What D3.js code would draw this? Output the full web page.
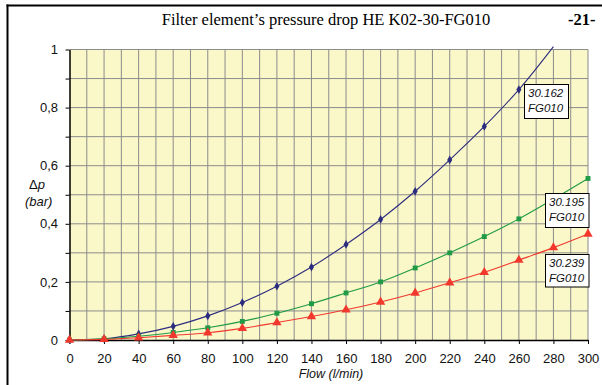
<!DOCTYPE html>
<html><head><meta charset="utf-8">
<script src="https://cdn.jsdelivr.net/npm/d3@7"></script>
<style>html,body{margin:0;padding:0;background:#fff;}svg{display:block;}</style>
</head><body>
<script>
const flow = [0,20,40,60,80,100,120,140,160,180,200,220,240,260,280,300];
const s162 = [0,0.004,0.021,0.047,0.083,0.129,0.185,0.251,0.329,0.415,0.512,0.62,0.735,0.862,1.01];
const s195 = [0,0.004,0.013,0.026,0.042,0.064,0.092,0.125,0.162,0.2,0.248,0.3,0.356,0.417,0.485,0.556];
const s239 = [0,0.002,0.008,0.016,0.025,0.04,0.06,0.081,0.104,0.131,0.162,0.197,0.233,0.275,0.318,0.365];
const seriesNames = [["30.162","FG010"],["30.195","FG010"],["30.239","FG010"]];
const xTicks = [0,20,40,60,80,100,120,140,160,180,200,220,240,260,280,300];
const yTicks = [0,0.2,0.4,0.6,0.8,1];
const title = "Filter element\u2019s pressure drop HE K02-30-FG010";
const pageNo = "-21-";

const W=602,H=385;
const svg=d3.select("body").append("svg").attr("width",W).attr("height",H);
svg.append("rect").attr("width",W).attr("height",H).attr("fill","#fff");

const x=d3.scaleLinear().domain([0,300]).range([69.5,588]);
const y=d3.scaleLinear().domain([0,1]).range([340,49.5]);

// frame
svg.append("line").attr("x1",6.5).attr("x2",W).attr("y1",5.5).attr("y2",5.5).attr("stroke","#000").attr("stroke-width",2);
svg.append("line").attr("x1",7.5).attr("x2",7.5).attr("y1",4.5).attr("y2",H).attr("stroke","#000").attr("stroke-width",2);

svg.append("text").attr("x",326).attr("y",25).attr("text-anchor","middle")
  .attr("font-family","'Liberation Serif','Times New Roman',serif").attr("font-size",16.5).text(title);
svg.append("text").attr("x",568).attr("y",25)
  .attr("font-family","'Liberation Serif','Times New Roman',serif").attr("font-weight","bold").attr("font-size",16.5).text(pageNo);

// plot background
svg.append("rect").attr("x",x(0)).attr("y",y(1)).attr("width",x(300)-x(0)).attr("height",y(0)-y(1)).attr("fill","#faf7c9");

// grid
const g=svg.append("g");
g.selectAll(".vg").data(d3.range(10,301,10)).join("line")
  .attr("x1",d=>x(d)).attr("x2",d=>x(d)).attr("y1",y(1)).attr("y2",y(0))
  .attr("stroke","#8c8c8c").attr("stroke-width",1);
g.selectAll(".hg").data(d3.range(1,11).map(d=>d/10)).join("line")
  .attr("x1",x(0)).attr("x2",x(300)).attr("y1",d=>y(d)).attr("y2",d=>y(d))
  .attr("stroke","#8c8c8c").attr("stroke-width",1);

// axes
const font="'Liberation Sans',Arial,sans-serif";
const yAxis=d3.axisLeft(y).tickValues(d3.range(0,11).map(d=>d/10)).tickSize(4).tickSizeOuter(0)
  .tickFormat(d=>yTicks.some(t=>Math.abs(t-d)<1e-9)? d3.format("~g")(d).replace(".",","):"");
const ya=svg.append("g").attr("transform",`translate(${x(0)},0)`).call(yAxis);
ya.select(".domain").attr("stroke","#000").attr("stroke-width",1.5);
ya.selectAll(".tick line").attr("stroke","#000");
ya.selectAll("text").attr("font-family",font).attr("font-size",13).attr("fill","#111").attr("x",-11.5);

const xAxis=d3.axisBottom(x).tickValues(xTicks).tickSize(4).tickSizeOuter(0).tickFormat(d3.format("d"));
const xa=svg.append("g").attr("transform",`translate(0,${y(0)})`).call(xAxis);
xa.select(".domain").attr("stroke","#000").attr("stroke-width",1.5);
xa.selectAll(".tick line").attr("stroke","#000");
xa.selectAll("text").attr("font-family",font).attr("font-size",13).attr("fill","#111").attr("dy",null).attr("y",23);

svg.append("text").attr("x",331).attr("y",377.5).attr("text-anchor","middle").attr("font-family",font)
  .attr("font-style","italic").attr("font-size",12.5).attr("fill","#111").text("Flow (l/min)");
const dp=svg.append("text").attr("x",29).attr("y",189).attr("font-family",font).attr("font-size",13).attr("fill","#111");
dp.append("tspan").text("\u0394");
dp.append("tspan").attr("font-style","italic").text("p");
svg.append("text").attr("x",25).attr("y",206).attr("font-family",font).attr("font-style","italic")
  .attr("font-size",13).attr("fill","#111").text("(bar)");

// series
const series=[
  {vals:s162,color:"#2c2c7e",sym:d3.symbolDiamond,size:22,mfill:"#2c2c7e"},
  {vals:s195,color:"#1f9a45",sym:d3.symbolSquare,size:24,mfill:"#1f9a45"},
  {vals:s239,color:"#f2382c",sym:d3.symbolTriangle,size:38,mfill:"#f2382c"}
];
const line=d3.line().x(d=>x(d[0])).y(d=>y(d[1])).curve(d3.curveCatmullRom.alpha(0.5));
series.forEach(s=>{
  const pts=s.vals.map((v,i)=>[flow[i],v]);
  svg.append("path").datum(pts).attr("d",line).attr("fill","none").attr("stroke",s.color).attr("stroke-width",1.1);
});
series.forEach(s=>{
  const pts=s.vals.map((v,i)=>[flow[i],v]).filter(p=>p[1]<=1);
  svg.selectAll(null).data(pts).join("path")
    .attr("transform",d=>`translate(${x(d[0])},${y(d[1])})`)
    .attr("d",d3.symbol(s.sym,s.size)).attr("fill",s.mfill);
});

// labels
const boxes=[{x:524.5,y:84.5,w:44,h:34},{x:545.5,y:193.5,w:43.5,h:34},{x:545.5,y:254.5,w:43.5,h:32.5}];
boxes.forEach((b,i)=>{
  svg.append("rect").attr("x",b.x).attr("y",b.y).attr("width",b.w).attr("height",b.h)
    .attr("fill","#fff").attr("stroke","#000").attr("stroke-width",1);
  const t=svg.append("text").attr("font-family",font).attr("font-style","italic").attr("font-size",11.5).attr("fill","#111");
  t.append("tspan").attr("x",b.x+3.5).attr("y",b.y+12.5).text(seriesNames[i][0]);
  t.append("tspan").attr("x",b.x+3.5).attr("y",b.y+27).text(seriesNames[i][1]);
});
</script>
</body></html>
